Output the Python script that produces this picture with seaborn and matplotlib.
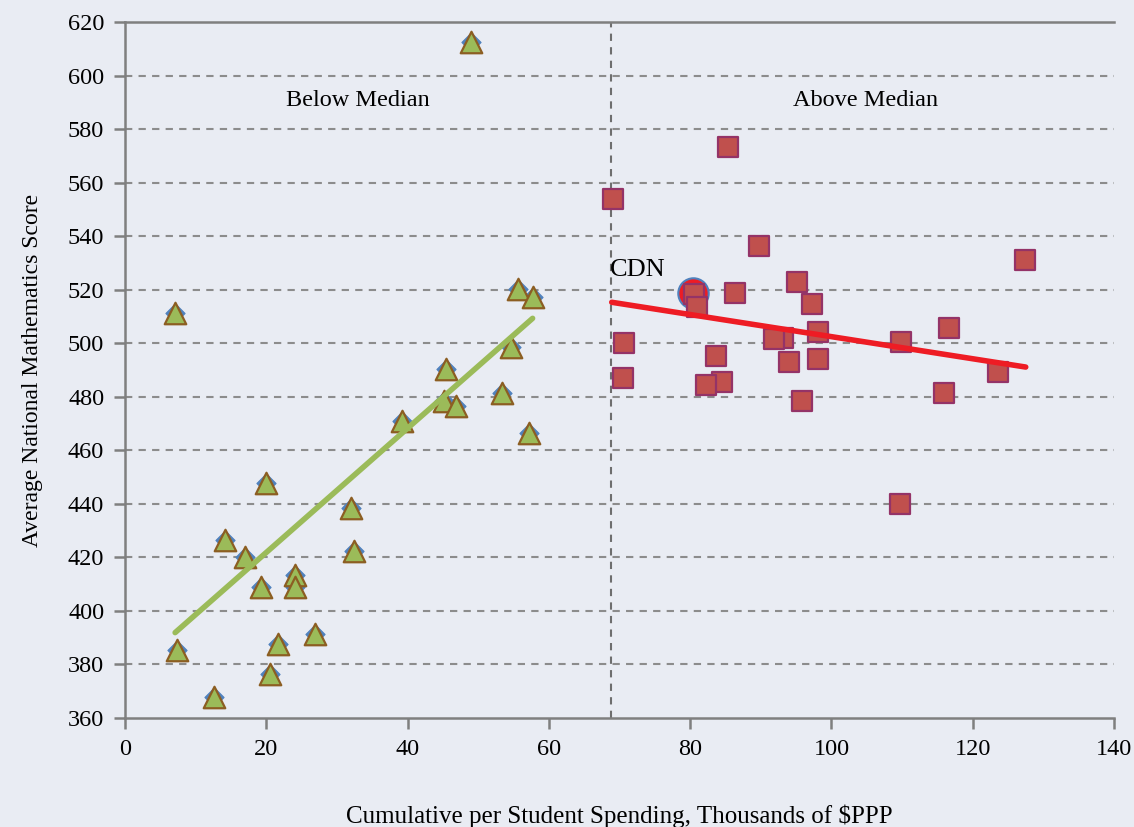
import pandas as pd
import seaborn as sns
import matplotlib.pyplot as plt

# ==========================================
# DATA
# ==========================================
below_x = [7.1, 7.3, 12.6, 14.2, 17.0, 20.0, 19.2, 20.5, 21.7, 24.0, 24.0, 26.9,
           32.0, 32.4, 39.2, 45.4, 45.1, 46.8, 53.3, 57.2, 54.6, 55.6, 57.8, 49.0]
below_y = [511.2, 385.4, 367.9, 426.5, 420.3, 447.7, 409.1, 376.4, 387.7, 413.4, 409.1, 391.4,
           438.3, 422.5, 471.1, 490.4, 478.5, 476.7, 481.3, 466.4, 498.5, 520.3, 517.4, 612.5]

above_x = [85.4, 69.1, 89.8, 127.4, 95.1, 80.5, 80.9, 86.3, 97.2, 98.1, 116.7, 70.7, 109.8,
           93.2, 91.8, 70.5, 83.7, 84.5, 82.3, 94.0, 98.1, 95.9, 123.6, 116.0, 109.7]
above_y = [573.4, 553.8, 536.4, 531.0, 523.0, 518.4, 513.7, 518.9, 514.7, 504.3, 505.7, 500.0, 500.3,
           501.8, 501.6, 487.1, 495.1, 485.4, 484.4, 492.9, 494.1, 478.4, 489.4, 481.5, 439.9]

# trend lines (end points as drawn in the source)
trend_below_x = [7.1, 57.7]
trend_below_y = [391.9, 509.3]
trend_above_x = [68.9, 127.5]
trend_above_y = [515.3, 491.1]

MEDIAN_X = 68.8
CDN_X, CDN_Y = 80.4, 518.6

BG = "#E9ECF3"
GRID = "#8C8C8C"
SPINE = "#7F7F7F"

below = pd.DataFrame({"spend": below_x, "score": below_y})
above = pd.DataFrame({"spend": above_x, "score": above_y})
tb = pd.DataFrame({"spend": trend_below_x, "score": trend_below_y})
ta = pd.DataFrame({"spend": trend_above_x, "score": trend_above_y})

sns.set_theme(style="white")
plt.rcParams["font.family"] = ["Liberation Serif", "DejaVu Serif"]
plt.rcParams["text.color"] = "black"
plt.rcParams["axes.labelcolor"] = "black"
plt.rcParams["xtick.labelcolor"] = "black"
plt.rcParams["ytick.labelcolor"] = "black"

fig = plt.figure(figsize=(11.34, 8.27), dpi=100, facecolor=BG)
ax = fig.add_axes([0.1102, 0.1318, 0.8722, 0.8416])
ax.set_facecolor(BG)

# horizontal dashed grid + median divider
for yv in range(380, 620, 20):
    ax.axhline(yv, color=GRID, lw=1.5, ls=(0, (3.5, 3)), zorder=1)
ax.axvline(MEDIAN_X, color="#6E6E6E", lw=1.5, ls=(0, (3.5, 3)), zorder=1)

# below median: blue diamonds hidden behind green triangles
sns.scatterplot(data=below, x="spend", y="score", marker="D", s=95,
                color="#4F81BD", edgecolor="#4F81BD", linewidth=0.8, ax=ax, zorder=3)
sns.scatterplot(data=below, x="spend", y="score", marker="^", s=240,
                color="#9BBB59", edgecolor="#8C5E22", linewidth=1.6, ax=ax, zorder=4)

# CDN highlight
ax.scatter([CDN_X], [CDN_Y], s=480, color="#EE1C24", edgecolor="#4F81BD",
           linewidth=1.5, zorder=3)

sns.scatterplot(data=above, x="spend", y="score", marker="s", s=200,
                color="#C0504D", edgecolor="#943367", linewidth=1.6, ax=ax, zorder=4)

sns.lineplot(data=tb, x="spend", y="score", color="#9BBB59", lw=4,
             ax=ax, zorder=5, solid_capstyle="round")
sns.lineplot(data=ta, x="spend", y="score", color="#EE1C24", lw=4,
             ax=ax, zorder=5, solid_capstyle="round")

ax.text(33.0, 590.5, "Below Median", ha="center", va="center", fontsize=17.5)
ax.text(104.8, 590.5, "Above Median", ha="center", va="center", fontsize=17.5)
ax.text(68.6, 527.5, "CDN", ha="left", va="center", fontsize=19)

ax.set_xlim(0, 140)
ax.set_ylim(360, 620)
ax.set_xticks(range(0, 141, 20))
ax.set_yticks(range(360, 621, 20))

for side in ["left", "bottom", "top"]:
    ax.spines[side].set_visible(True)
    ax.spines[side].set_color(SPINE)
    ax.spines[side].set_linewidth(1.8)
ax.spines["right"].set_visible(False)
ax.tick_params(axis="both", direction="out", length=8, width=1.8, color=SPINE,
               labelsize=17.5, pad=7)
ax.tick_params(left=True, bottom=True)

ax.set_xlabel("Cumulative per Student Spending, Thousands of $PPP", fontsize=18, labelpad=32)
ax.set_ylabel("Average National Mathematics Score", fontsize=17, labelpad=18)

fig.savefig("out.png", dpi=100, facecolor=BG)
